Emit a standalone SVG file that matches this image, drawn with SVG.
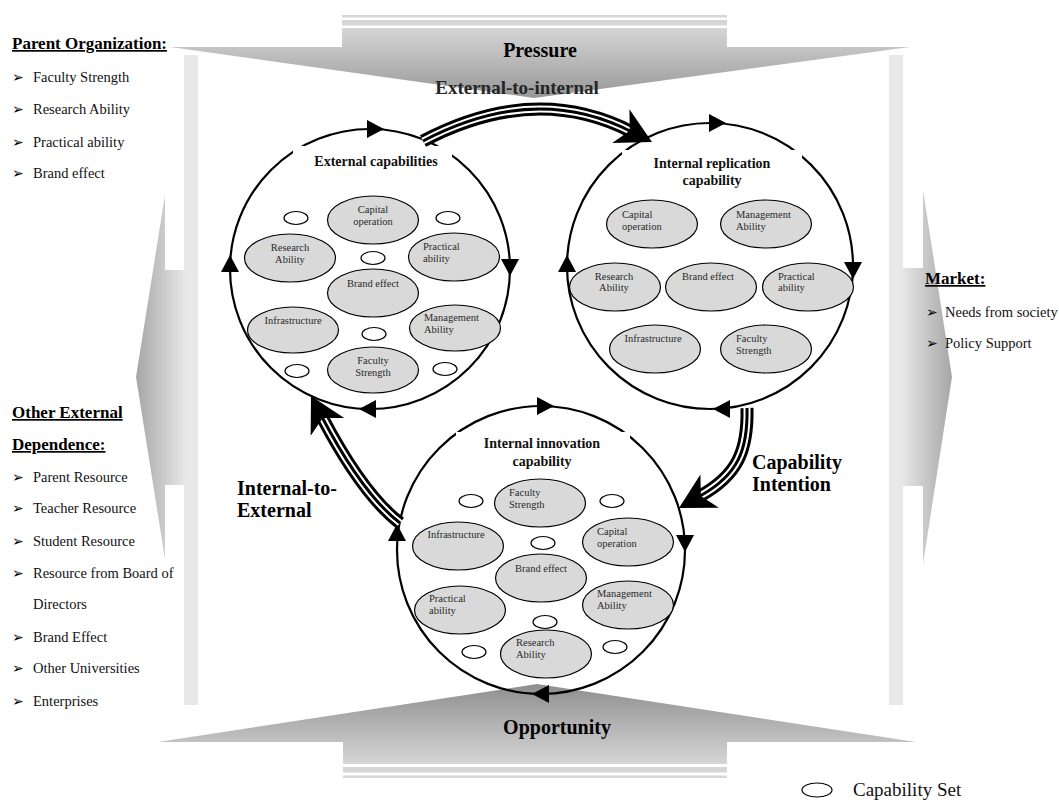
<svg xmlns="http://www.w3.org/2000/svg" width="1059" height="808" viewBox="0 0 1059 808">
<defs>
  <linearGradient id="gTop" gradientUnits="userSpaceOnUse" x1="0" y1="28" x2="0" y2="98">
    <stop offset="0" stop-color="#d6d6d6"/><stop offset="1" stop-color="#979797"/>
  </linearGradient>
  <linearGradient id="gBot" gradientUnits="userSpaceOnUse" x1="0" y1="684" x2="0" y2="764">
    <stop offset="0" stop-color="#8e8e8e"/><stop offset="1" stop-color="#d6d6d6"/>
  </linearGradient>
  <linearGradient id="gLeft" gradientUnits="userSpaceOnUse" x1="136" y1="0" x2="186" y2="0">
    <stop offset="0" stop-color="#a6a6a6"/><stop offset="1" stop-color="#e8e8e8"/>
  </linearGradient>
  <linearGradient id="gRight" gradientUnits="userSpaceOnUse" x1="901" y1="0" x2="952" y2="0">
    <stop offset="0" stop-color="#e8e8e8"/><stop offset="1" stop-color="#a6a6a6"/>
  </linearGradient>
  <path id="tri" d="M9,0 L-8,-9 L-8,9 Z"/>
  <path id="head" d="M0,0 L-35,-19 L-25,0 L-35,19 Z"/>
  <path id="pA" d="M423,141 Q535,82 632,132"/>
  <path id="pB" d="M747,408 C748,450 738,475 700,496"/>
  <path id="pC" d="M400,523 C370,500 342,455 322,417"/>
</defs>
<style>
  .serif{font-family:"Liberation Serif","Times New Roman",serif;}
  .head{font-family:"Liberation Serif","Times New Roman",serif;font-weight:bold;font-size:17px;fill:#000;text-decoration:underline;}
  .item{font-family:"Liberation Serif","Times New Roman",serif;font-size:14.5px;fill:#111;}
  .bul{font-family:"DejaVu Sans",sans-serif;font-size:14px;fill:#000;}
  .big{font-family:"Liberation Serif","Times New Roman",serif;font-weight:bold;font-size:20px;fill:#000;}
  .title{font-family:"Liberation Serif","Times New Roman",serif;font-weight:bold;font-size:14px;fill:#111;text-anchor:middle;}
  .cap{fill:#d9d9d9;stroke:#000;stroke-width:1.2;}
  .small{fill:#fff;stroke:#000;stroke-width:1.2;}
  .lbl{font-family:"Liberation Serif","Times New Roman",serif;font-size:10.5px;fill:#2a2a2a;}
  .mid{text-anchor:middle;}
  .ring{fill:none;stroke:#000;stroke-width:2.2;}
  .b1{fill:none;stroke:#000;stroke-width:13;}
  .b2{fill:none;stroke:#fff;stroke-width:7;}
  .b3{fill:none;stroke:#000;stroke-width:3;}
</style>

<!-- background block arrows -->
<g id="pressure-arrow">
  <rect x="342" y="15" width="385" height="2.5" fill="#d6d6d6"/>
  <rect x="342" y="20" width="385" height="5.5" fill="#d6d6d6"/>
  <path d="M342,28 H727 V47 H910 L534,98 L170,47 H342 Z" fill="url(#gTop)"/>
  <text class="big" x="540" y="57" text-anchor="middle">Pressure</text>
</g>
<g id="opportunity-arrow">
  <rect x="343" y="767" width="384" height="5.5" fill="#d6d6d6"/>
  <rect x="343" y="775.5" width="384" height="2.5" fill="#d6d6d6"/>
  <path d="M343,764 V742 H158 L537,684 L916,742 H727 V764 Z" fill="url(#gBot)"/>
  <text class="big" x="557" y="734" text-anchor="middle">Opportunity</text>
</g>
<g id="dependence-arrow">
  <rect x="184" y="55" width="14" height="650" fill="#e8e8e8"/>
  <path d="M185,270 H165 V195 L136,377 L165,559 V485 H185 Z" fill="url(#gLeft)"/>
</g>
<g id="market-arrow">
  <rect x="889" y="55" width="14" height="650" fill="#e8e8e8"/>
  <path d="M902,268 H923 V190 L952,377 L923,564 V486 H902 Z" fill="url(#gRight)"/>
</g>

<!-- side lists -->
<g id="parent-organization">
  <text class="head" x="12" y="49">Parent Organization:</text>
  <text class="bul" x="12" y="82">➢</text><text class="item" x="33" y="82">Faculty Strength</text>
  <text class="bul" x="12" y="114">➢</text><text class="item" x="33" y="114">Research Ability</text>
  <text class="bul" x="12" y="147">➢</text><text class="item" x="33" y="147">Practical ability</text>
  <text class="bul" x="12" y="178">➢</text><text class="item" x="33" y="178">Brand effect</text>
</g>
<g id="other-external-dependence">
  <text class="head" x="12" y="418">Other External</text>
  <text class="head" x="12" y="450">Dependence:</text>
  <text class="bul" x="12" y="482">➢</text><text class="item" x="33" y="482">Parent Resource</text>
  <text class="bul" x="12" y="513">➢</text><text class="item" x="33" y="513">Teacher Resource</text>
  <text class="bul" x="12" y="546">➢</text><text class="item" x="33" y="546">Student Resource</text>
  <text class="bul" x="12" y="578">➢</text><text class="item" x="33" y="578">Resource from Board of</text>
  <text class="item" x="33" y="609">Directors</text>
  <text class="bul" x="12" y="642">➢</text><text class="item" x="33" y="642">Brand Effect</text>
  <text class="bul" x="12" y="673">➢</text><text class="item" x="33" y="673">Other Universities</text>
  <text class="bul" x="12" y="706">➢</text><text class="item" x="33" y="706">Enterprises</text>
</g>
<g id="market">
  <text class="head" x="925" y="284">Market:</text>
  <text class="bul" x="926" y="317">➢</text><text class="item" x="945" y="317">Needs from society</text>
  <text class="bul" x="926" y="348">➢</text><text class="item" x="945" y="348">Policy Support</text>
</g>

<!-- circle 1 -->
<g id="external-capabilities">
  <circle class="ring" cx="370" cy="269" r="140"/>
  <use href="#tri" transform="translate(375,129)"/>
  <use href="#tri" transform="translate(510,267) rotate(90)"/>
  <use href="#tri" transform="translate(368,409) rotate(180)"/>
  <use href="#tri" transform="translate(230,264) rotate(-90)"/>
  <rect x="293" y="146" width="159" height="30" fill="#fff"/>
  <text class="title" x="376" y="166">External capabilities</text>
  <ellipse class="small" cx="296" cy="218" rx="12" ry="6.5"/>
  <ellipse class="small" cx="448" cy="218" rx="12" ry="6.5"/>
  <ellipse class="small" cx="373" cy="258" rx="12" ry="6.5"/>
  <ellipse class="small" cx="374" cy="334" rx="12" ry="6.5"/>
  <ellipse class="small" cx="297" cy="371" rx="12" ry="6.5"/>
  <ellipse class="small" cx="445" cy="369" rx="12" ry="6.5"/>
  <ellipse class="cap" cx="373" cy="220" rx="45.5" ry="24"/>
  <text class="lbl mid" x="373" y="213">Capital</text><text class="lbl mid" x="373" y="225">operation</text>
  <ellipse class="cap" cx="290" cy="258" rx="45.5" ry="24"/>
  <text class="lbl mid" x="290" y="251">Research</text><text class="lbl mid" x="290" y="263">Ability</text>
  <ellipse class="cap" cx="454" cy="257" rx="45.5" ry="24"/>
  <text class="lbl" x="423" y="250">Practical</text><text class="lbl" x="423" y="262">ability</text>
  <ellipse class="cap" cx="373" cy="293" rx="45.5" ry="24"/>
  <text class="lbl mid" x="373" y="287">Brand effect</text>
  <ellipse class="cap" cx="293" cy="330" rx="45.5" ry="23"/>
  <text class="lbl mid" x="293" y="324">Infrastructure</text>
  <ellipse class="cap" cx="455" cy="328" rx="45.5" ry="23"/>
  <text class="lbl" x="424" y="321">Management</text><text class="lbl" x="424" y="333">Ability</text>
  <ellipse class="cap" cx="373" cy="370" rx="45.5" ry="23"/>
  <text class="lbl mid" x="373" y="364">Faculty</text><text class="lbl mid" x="373" y="376">Strength</text>
</g>

<!-- circle 2 -->
<g id="internal-replication">
  <circle class="ring" cx="710" cy="266" r="143"/>
  <use href="#tri" transform="translate(717,123)"/>
  <use href="#tri" transform="translate(853,270) rotate(90)"/>
  <use href="#tri" transform="translate(722,409) rotate(180)"/>
  <use href="#tri" transform="translate(567,264) rotate(-90)"/>
  <rect x="622" y="150" width="180" height="40" fill="#fff"/>
  <text class="title" x="712" y="168">Internal replication</text>
  <text class="title" x="712" y="185">capability</text>
  <ellipse class="cap" cx="652" cy="224" rx="45.5" ry="24"/>
  <text class="lbl" x="622" y="218">Capital</text><text class="lbl" x="622" y="230">operation</text>
  <ellipse class="cap" cx="766" cy="224" rx="45.5" ry="24"/>
  <text class="lbl" x="736" y="218">Management</text><text class="lbl" x="736" y="230">Ability</text>
  <ellipse class="cap" cx="615" cy="287" rx="45.5" ry="24"/>
  <text class="lbl mid" x="614" y="280">Research</text><text class="lbl mid" x="614" y="291">Ability</text>
  <ellipse class="cap" cx="711" cy="287" rx="45.5" ry="24"/>
  <text class="lbl mid" x="708" y="280">Brand effect</text>
  <ellipse class="cap" cx="808" cy="287" rx="45.5" ry="24"/>
  <text class="lbl" x="778" y="280">Practical</text><text class="lbl" x="778" y="291">ability</text>
  <ellipse class="cap" cx="655" cy="349" rx="45.5" ry="24"/>
  <text class="lbl mid" x="653" y="342">Infrastructure</text>
  <ellipse class="cap" cx="766" cy="349" rx="45.5" ry="24"/>
  <text class="lbl" x="736" y="342">Faculty</text><text class="lbl" x="736" y="354">Strength</text>
</g>

<!-- circle 3 -->
<g id="internal-innovation">
  <circle class="ring" cx="541" cy="550" r="144"/>
  <use href="#tri" transform="translate(545,406)"/>
  <use href="#tri" transform="translate(685,543) rotate(90)"/>
  <use href="#tri" transform="translate(541,694) rotate(180)"/>
  <use href="#tri" transform="translate(397,533) rotate(-90)"/>
  <rect x="456" y="432" width="174" height="38" fill="#fff"/>
  <text class="title" x="542" y="448">Internal innovation</text>
  <text class="title" x="542" y="466">capability</text>
  <ellipse class="small" cx="471" cy="501" rx="12" ry="6.5"/>
  <ellipse class="small" cx="612" cy="501" rx="12" ry="6.5"/>
  <ellipse class="small" cx="543" cy="543" rx="12" ry="6.5"/>
  <ellipse class="small" cx="545" cy="622" rx="12" ry="6.5"/>
  <ellipse class="small" cx="474" cy="652" rx="12" ry="6.5"/>
  <ellipse class="small" cx="615" cy="647" rx="12" ry="6.5"/>
  <ellipse class="cap" cx="540" cy="503" rx="45.5" ry="24"/>
  <text class="lbl" x="509" y="496">Faculty</text><text class="lbl" x="509" y="508">Strength</text>
  <ellipse class="cap" cx="458" cy="546" rx="45.5" ry="24"/>
  <text class="lbl mid" x="456" y="538">Infrastructure</text>
  <ellipse class="cap" cx="628" cy="542" rx="45.5" ry="24"/>
  <text class="lbl" x="597" y="535">Capital</text><text class="lbl" x="597" y="547">operation</text>
  <ellipse class="cap" cx="541" cy="578" rx="45.5" ry="24"/>
  <text class="lbl mid" x="541" y="572">Brand effect</text>
  <ellipse class="cap" cx="460" cy="610" rx="45.5" ry="24"/>
  <text class="lbl" x="429" y="602">Practical</text><text class="lbl" x="429" y="614">ability</text>
  <ellipse class="cap" cx="628" cy="605" rx="45.5" ry="24"/>
  <text class="lbl" x="597" y="597">Management</text><text class="lbl" x="597" y="609">Ability</text>
  <ellipse class="cap" cx="546" cy="654" rx="45.5" ry="24"/>
  <text class="lbl" x="516" y="646">Research</text><text class="lbl" x="516" y="658">Ability</text>
</g>

<!-- connectors -->
<g id="connectors">
  <use href="#pA" class="b1"/><use href="#pA" class="b2"/><use href="#pA" class="b3"/>
  <use href="#head" transform="translate(652,142) rotate(27)"/>
  <use href="#pB" class="b1"/><use href="#pB" class="b2"/><use href="#pB" class="b3"/>
  <use href="#head" transform="translate(679,508) rotate(151)"/>
  <use href="#pC" class="b1"/><use href="#pC" class="b2"/><use href="#pC" class="b3"/>
  <use href="#head" transform="translate(311,396) rotate(-118)"/>
</g>

<g id="connector-labels">
  <text class="big" x="517" y="94" text-anchor="middle" style="font-size:19px;fill:#262626">External-to-internal</text>
  <text class="big" x="237" y="495">Internal-to-</text>
  <text class="big" x="237" y="517">External</text>
  <text class="big" x="752" y="469">Capability</text>
  <text class="big" x="752" y="491">Intention</text>
</g>

<g id="legend">
  <ellipse class="small" cx="817" cy="790" rx="15" ry="7"/>
  <text class="serif" x="853" y="796" style="font-size:19px;fill:#111">Capability Set</text>
</g>
</svg>
